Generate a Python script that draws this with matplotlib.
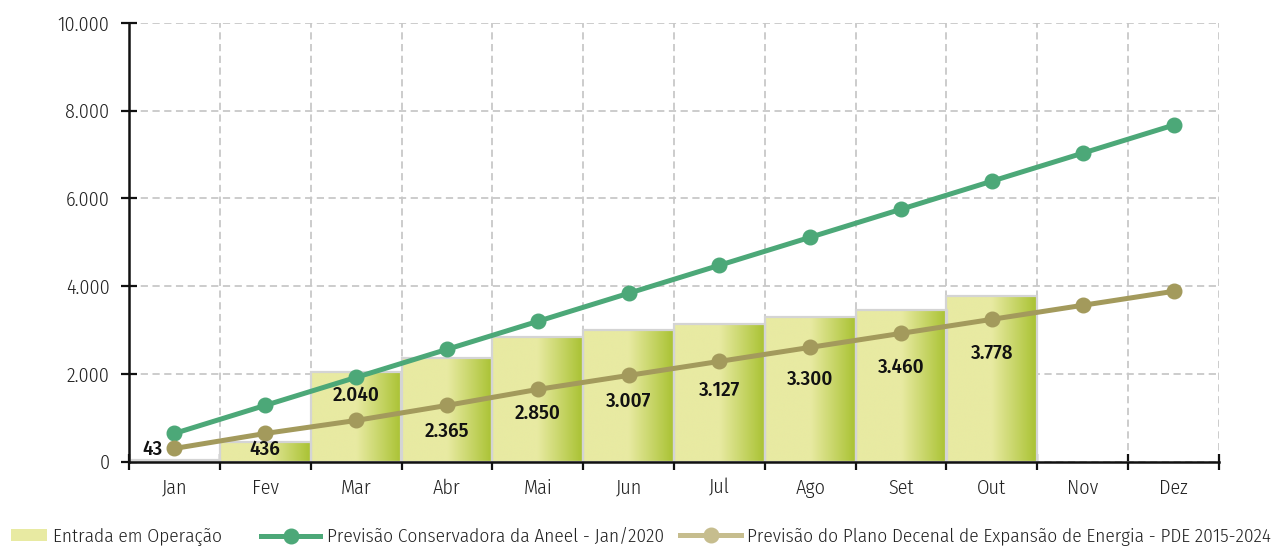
import numpy as np
import matplotlib
matplotlib.use("Agg")
import matplotlib.pyplot as plt
from matplotlib.patches import Rectangle
from matplotlib.lines import Line2D
from matplotlib.colors import to_rgb
from matplotlib.ticker import FuncFormatter

plt.rcParams['font.family'] = ['Fira Sans Condensed', 'DejaVu Sans']
plt.rcParams['font.weight'] = 300

months = ["Jan", "Fev", "Mar", "Abr", "Mai", "Jun", "Jul", "Ago", "Set", "Out", "Nov", "Dez"]
entrada = [43, 436, 2040, 2365, 2850, 3007, 3127, 3300, 3460, 3778]
aneel = [640, 1280, 1918, 2557, 3196, 3836, 4475, 5114, 5753, 6393, 7032, 7671]
pde = [297, 639, 936, 1279, 1644, 1963, 2283, 2603, 2922, 3242, 3562, 3881]
yticks = [0, 2000, 4000, 6000, 8000, 10000]

# label placement (layout only)
label_y = [274, 274, 1516, 696, 1106, 1380, 1630, 1881, 2155, 2474]
label_dx = [-0.24, 0, 0, 0, 0, 0, 0, 0, 0, 0]

GREEN = "#4ca878"
OLIVE = "#a39a5c"
OLIVE_LEG = "#c6bd8e"
PALE = "#e8eaa2"
BARGREEN = "#a9c232"

W, H = 1273, 547
fig = plt.figure(figsize=(W / 100, H / 100), dpi=100)
ax = fig.add_axes([129/W, 1-461.5/H, (1219-129)/W, (461.5-23)/H])

x = np.arange(len(months))
bx = x[:len(entrada)]
bars = ax.bar(bx, entrada, width=1.0, facecolor='none', edgecolor='#d4d4d4', linewidth=1.6, zorder=2)

n = 256
t = np.linspace(0, 1, n)
c0 = np.array(to_rgb(PALE)); c1 = np.array(to_rgb(BARGREEN))
f = np.clip((t - 0.5) / 0.5, 0, 1)
grad = (c0[None, :] * (1 - f[:, None]) + c1[None, :] * f[:, None])[None, :, :]
for b in bars:
    x0, y0 = b.get_x(), b.get_y()
    w, h = b.get_width(), b.get_height()
    im = ax.imshow(grad, extent=(x0, x0 + w, y0, y0 + h), aspect='auto', zorder=1.9,
                   interpolation='bilinear')
    im.set_clip_path(b)

ax.plot(x, aneel, color=GREEN, lw=3.6, marker='o', ms=10.5, zorder=4, solid_capstyle='round')
ax.plot(x, pde, color=OLIVE, lw=3.6, marker='o', ms=10.5, zorder=4, solid_capstyle='round')

for i, v in enumerate(entrada):
    ax.text(bx[i] + label_dx[i], label_y[i], f"{v:,}".replace(",", "."), ha='center', va='center',
            fontsize=15, fontweight=500, color='#111111', zorder=5)

ax.set_xlim(-0.5, len(months) - 0.5)
ax.set_ylim(0, 10000)
ax.set_yticks(yticks)
ax.yaxis.set_major_formatter(FuncFormatter(lambda v, p: f"{int(v):,}".replace(",", ".")))
ax.set_xticks(x)
ax.set_xticklabels(months)
ax.set_xticks(np.arange(-0.5, len(months)), minor=True)
ax.tick_params(axis='x', which='major', length=0, pad=12, labelsize=14.5, labelcolor='#222222')
ax.tick_params(axis='x', which='minor', length=12, width=1.6, direction='inout', color='#111111')
ax.tick_params(axis='y', which='major', length=12, width=1.6, direction='inout', color='#111111',
               pad=8, labelsize=14.5, labelcolor='#222222')

ax.set_axisbelow(True)
ax.grid(axis='y', which='major', color='#c8c8c8', linestyle=(0, (4, 2.5)), linewidth=1.3)
ax.grid(axis='x', which='minor', color='#c8c8c8', linestyle=(0, (4, 2.5)), linewidth=1.3)
for s in ['top', 'right']:
    ax.spines[s].set_visible(False)
for s in ['left', 'bottom']:
    ax.spines[s].set_linewidth(1.8)
    ax.spines[s].set_color('#111111')
    ax.spines[s].set_zorder(6)

# legend: three entries placed individually
FS = 13.85
em = FS * 100 / 72
legend_items = [
    (Rectangle((0, 0), 1, 1, facecolor=PALE, edgecolor='none'), "Entrada em Operação", 11, 36, 6, 0.6),
    (Line2D([], [], color=GREEN, lw=3.6, marker='o', ms=10.5), "Previsão Conservadora da Aneel - Jan/2020", 261, 59, 7, 0.7),
    (Line2D([], [], color=OLIVE_LEG, lw=3.6, marker='o', ms=10.5),
     "Previsão do Plano Decenal de Expansão de Energia - PDE 2015-2024", 680, 61, 6, 0.7),
]
for handle, label, x_px, hl_px, pad_px, hh in legend_items:
    fig.legend([handle], [label], loc='center left', bbox_to_anchor=(x_px / W, 1 - 537 / H),
               frameon=False, fontsize=FS, handlelength=hl_px / em, handletextpad=pad_px / em,
               handleheight=hh, borderaxespad=0, borderpad=0, labelcolor='#222222')

fig.savefig("out.png", dpi=100)
